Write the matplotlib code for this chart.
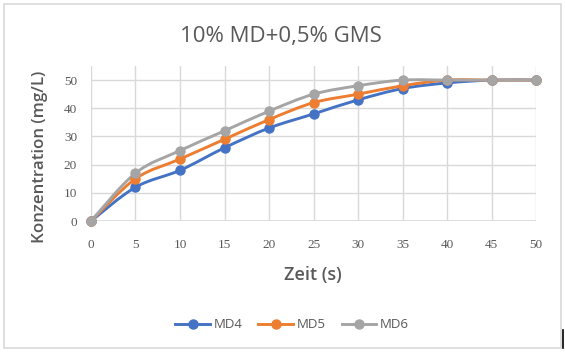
import numpy as np
import matplotlib
matplotlib.use('Agg')
import matplotlib.pyplot as plt
from matplotlib.path import Path
from matplotlib.patches import PathPatch, Rectangle
from matplotlib.lines import Line2D

### data
zeit = [0, 5, 10, 15, 20, 25, 30, 35, 40, 45, 50]
md4 = [0, 12, 18, 26, 33, 38, 43, 47, 49, 50, 50]
md5 = [0, 15, 22, 29, 36, 42, 45, 48, 50, 50, 50]
md6 = [0, 17, 25, 32, 39, 45, 48, 50, 50, 50, 50]
series = ['MD4', 'MD5', 'MD6']
colors = ['#4472C4', '#ED7D31', '#A5A5A5']
xticks = [0, 5, 10, 15, 20, 25, 30, 35, 40, 45, 50]
yticks = [0, 10, 20, 30, 40, 50]

txt = '#595959'
grid = '#D9D9D9'


def smooth_path(x, y):
    # excel-style smoothed line: cubic bezier with catmull-rom tangents
    x = np.asarray(x, float)
    y = np.asarray(y, float)
    n = len(x)
    verts = [(x[0], y[0])]
    codes = [Path.MOVETO]
    for i in range(n - 1):
        x0, y0 = (x[i - 1], y[i - 1]) if i > 0 else (x[i], y[i])
        x3, y3 = (x[i + 2], y[i + 2]) if i + 2 < n else (x[i + 1], y[i + 1])
        c1 = (x[i] + (x[i + 1] - x0) / 6, y[i] + (y[i + 1] - y0) / 6)
        c2 = (x[i + 1] - (x3 - x[i]) / 6, y[i + 1] - (y3 - y[i]) / 6)
        verts += [c1, c2, (x[i + 1], y[i + 1])]
        codes += [Path.CURVE4] * 3
    return Path(verts, codes)


fig = plt.figure(figsize=(5.65, 3.52), dpi=100)
ax = fig.add_axes([0.161, 0.372, 0.788, 0.4405])

handles = []
for name, vals, c in zip(series, [md4, md5, md6], colors):
    ax.add_patch(PathPatch(smooth_path(zeit, vals), fc='none', ec=c, lw=2.1,
                           capstyle='round', joinstyle='round', zorder=3,
                           clip_on=False))
    ax.plot(zeit, vals, ls='none', marker='o', ms=6.5, color=c, zorder=4,
            clip_on=False)
    handles.append(Line2D([], [], color=c, lw=2.1, marker='o', ms=6.5))

ax.set_xlim(0, 50)
ax.set_ylim(0, 55)
ax.set_xticks(xticks)
ax.set_yticks(yticks)
ax.grid(True, color=grid, lw=1)
ax.set_axisbelow(True)
for s in ax.spines.values():
    s.set_visible(False)
ax.axhline(0, color=grid, lw=1.2, zorder=1)
ax.tick_params(length=0, labelsize=9.5, labelcolor=txt)
ax.tick_params(axis='x', pad=13)
ax.tick_params(axis='y', pad=10)
for lab in ax.get_xticklabels() + ax.get_yticklabels():
    lab.set_family('Liberation Serif')

fig.text(0.497, 0.897, '10% MD+0,5% GMS', ha='center', va='center',
         fontsize=16, color=txt, family='Open Sans')
fig.text(0.553, 0.218, 'Zeit (s)', ha='center', va='center',
         fontsize=13, color=txt, family='Open Sans', weight='semibold')
fig.text(0.071, 0.553, 'Konzentration (mg/L)', ha='center', va='center',
         rotation=90, fontsize=12.2, color=txt, family='Open Sans',
         weight='semibold')

fig.legend(handles, series, loc='center', bbox_to_anchor=(0.517, 0.077),
           ncol=3, frameon=False, fontsize=9.5, labelcolor=txt,
           handlelength=2.6, columnspacing=1.2, handletextpad=0.3,
           prop={'family': 'Open Sans', 'size': 9.5})

# outer chart frame
fig.patches.append(Rectangle((4 / 565, 4 / 352), 557 / 565, 344 / 352,
                             transform=fig.transFigure, fc='none',
                             ec='#D9D9D9', lw=1.2))
fig.add_artist(Line2D([562.5 / 565, 562.5 / 565], [4 / 352, 22 / 352],
                      transform=fig.transFigure, color='black', lw=1.2))

plt.savefig('out.png', dpi=100)
plt.close('all')
